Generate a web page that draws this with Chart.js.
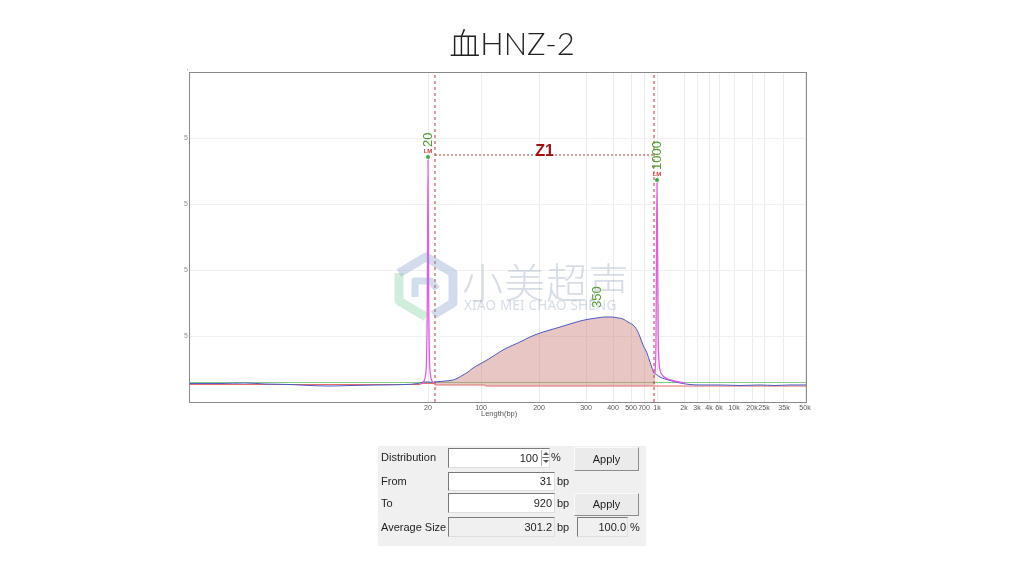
<!DOCTYPE html>
<html><head><meta charset="utf-8">
<script src="https://cdn.jsdelivr.net/npm/chart.js@4/dist/chart.umd.min.js"></script>
<style>
html,body{margin:0;padding:0;background:#fff;width:1024px;height:576px;overflow:hidden;}
#wrap{position:absolute;left:0;top:0;width:1024px;height:576px;}
#title{position:absolute;left:0;top:19px;width:1024px;text-align:center;font:300 31px "Lato","Noto Sans CJK SC",sans-serif;color:#222;}
#wm{position:absolute;left:0;top:0;width:1024px;height:576px;pointer-events:none;}
.wmcn{position:absolute;left:462px;top:250px;font:300 41px "Noto Sans CJK SC",sans-serif;color:rgba(150,165,190,0.38);letter-spacing:1px;white-space:nowrap;}
.wmen{position:absolute;left:464px;top:296px;font:13.5px "Noto Sans",sans-serif;color:rgba(150,165,190,0.38);white-space:nowrap;letter-spacing:0.2px;}
#panel{position:absolute;left:378px;top:446px;width:268px;height:100px;background:#f0f0f0;font:11px "Liberation Sans",Arial,sans-serif;color:#1e1e1e;}
#panel div{position:absolute;box-sizing:border-box;white-space:nowrap;}
.lbl{height:14px;line-height:14px;}
.box{border-top:1px solid #7a7a7a;border-left:1px solid #7a7a7a;border-right:1px solid #dedede;border-bottom:1px solid #dedede;background:#fff;text-align:right;padding-right:2px;}
.grey{background:#f0f0f0;}
.btn{background:#ebebeb;border-top:1px solid #fafafa;border-left:1px solid #fafafa;border-right:1px solid #8c8c8c;border-bottom:1px solid #8c8c8c;text-align:center;}
</style>
</head><body>
<div id="wrap"><canvas id="c" width="1024" height="576"></canvas></div>
<div id="title">血HNZ-2</div>
<div id="wm">
  <svg style="position:absolute;left:393px;top:251px" width="66" height="72" viewBox="0 0 66 72">
    <polyline points="6,22 33,6 60,22 60,52 40,64" fill="none" stroke="rgba(130,155,200,0.35)" stroke-width="9" stroke-linejoin="round"/>
    <polyline points="6,22 6,50 33,66" fill="none" stroke="rgba(120,200,150,0.35)" stroke-width="9" stroke-linejoin="round"/>
    <polyline points="22,46 22,30 38,30 44,38" fill="none" stroke="rgba(130,155,200,0.35)" stroke-width="7" stroke-linejoin="round"/>
  </svg>
  <div class="wmcn">小美超声</div>
  <div class="wmen">XIAO MEI CHAO SHENG</div>
</div>
<div id="panel">
  <div class="lbl" style="left:3px;top:4px">Distribution</div>
  <div class="box" style="left:70px;top:2px;width:102px;height:20px;line-height:18px;padding-right:11px">100</div>
  <div style="left:163px;top:4px;width:8px;height:16px;border-left:1px solid #b0b0b0;">
    <div style="left:1px;top:2px;width:0;height:0;border-left:3px solid transparent;border-right:3px solid transparent;border-bottom:3px solid #555"></div>
    <div style="left:0;top:7px;width:7px;height:1px;background:#777"></div>
    <div style="left:1px;top:10px;width:0;height:0;border-left:3px solid transparent;border-right:3px solid transparent;border-top:3px solid #555"></div>
  </div>
  <div class="lbl" style="left:173px;top:4px">%</div>
  <div class="btn" style="left:196px;top:1px;width:65px;height:24px;line-height:22px">Apply</div>

  <div class="lbl" style="left:3px;top:28px">From</div>
  <div class="box" style="left:70px;top:26px;width:107px;height:19px;line-height:17px">31</div>
  <div class="lbl" style="left:179px;top:28px">bp</div>

  <div class="lbl" style="left:3px;top:50px">To</div>
  <div class="box" style="left:70px;top:47px;width:107px;height:20px;line-height:18px">920</div>
  <div class="lbl" style="left:179px;top:50px">bp</div>
  <div class="btn" style="left:196px;top:47px;width:65px;height:23px;line-height:21px">Apply</div>

  <div class="lbl" style="left:3px;top:74px">Average Size</div>
  <div class="box grey" style="left:70px;top:71px;width:107px;height:20px;line-height:18px">301.2</div>
  <div class="lbl" style="left:179px;top:74px">bp</div>
  <div class="box grey" style="left:199px;top:71px;width:51px;height:20px;line-height:18px;padding-right:1px">100.0</div>
  <div class="lbl" style="left:252px;top:74px">%</div>
</div>
<script>
// ---- calibration / axes ----
const ladderSizeLabels = ['20','100','200','300','400','500','700','1k','2k','3k','4k','6k','10k','20k','25k','35k','50k'];
const ladderTimes = [23.8,29.1,34.9,39.6,42.3,44.1,45.4,46.7,49.4,50.7,51.9,52.9,54.4,56.2,57.4,59.4,61.5];
const xAxisTitle = 'Length(bp)';
const yTickLabels = ['', '5', '5', '5', '5', '\''];

// ---- sample trace (blue) ----
const tLeft   = [0, 3, 5.5, 7.5, 10, 12, 14, 16, 19, 21.5, 22.8, 23.4, 23.8, 24.3, 24.5];
const rfuLeft = [280, 280, 288, 273, 265, 250, 242, 250, 258, 265, 280, 303, 303, 295, 303];
const tSmear   = [24.5, 25.5, 26.3, 26.8, 27.3, 27.8, 28.3, 29.0, 29.7, 30.5, 31.3, 32.1, 33.0, 34.0, 35.0, 36.0, 37.0, 38.0, 39.0, 40.0, 40.7, 41.5, 42.2, 42.8, 43.3, 43.8, 44.3, 44.7, 45.0, 45.3, 45.7, 46.0, 46.2, 46.4, 46.55];
const rfuSmear = [303, 318, 333, 364, 409, 455, 515, 576, 636, 712, 788, 848, 909, 985, 1045, 1091, 1136, 1182, 1227, 1258, 1273, 1288, 1288, 1273, 1258, 1212, 1167, 1091, 985, 864, 742, 606, 515, 439, 424];
const tRight   = [46.55, 47.0, 47.5, 48.2, 49.0, 50.0, 51.0, 53.0, 55.0, 57.0, 58.5, 60.0, 61.6];
const rfuRight = [424, 379, 348, 318, 288, 265, 258, 258, 250, 258, 250, 258, 258];

// ---- ladder (pink) ----
const tLadder20   = [23.1, 23.4, 23.55, 23.65, 23.73, 23.8, 23.87, 23.95, 24.05, 24.2, 24.45];
const rfuLadder20 = [273, 318, 409, 636, 1545, 3667, 1545, 636, 409, 318, 288];
const tLadder1k   = [46.5, 46.6, 46.65, 46.7, 46.76, 46.83, 46.9, 47.0, 47.3, 47.8, 48.5, 49.5];
const rfuLadder1k = [424, 939, 2303, 3318, 2303, 939, 606, 485, 394, 348, 318, 288];

// ---- baselines ----
const tRed   = [0, 23.0, 23.1, 24.4, 24.5, 29.4, 29.6, 61.6];
const rfuRed = [265, 265, 280, 280, 258, 258, 242, 242];
const tGreen   = [0, 61.6];
const rfuGreen = [295, 295];

// ---- region Z1 ----
const regionName = 'Z1';
const regionStart = 24.5, regionEnd = 46.4, regionLevel = 3742;

// ---- peak labels ----
const peakLabelText = ['20', '1000', '350'];
const peakLabelTime = [23.8, 46.7, 40.7];
const peakLabelRfu  = [3667, 3318, 1273];
const peakIsMarker  = [true, true, false];
const markerTag = 'LM';

const pts = (xs, ys) => xs.map((x, i) => ({x, y: ys[i]}));

const overlay = {
  id: 'overlay',
  afterDatasetsDraw(chart) {
    const {ctx, chartArea: a, scales: {x, y}} = chart;
    ctx.save();
    ctx.fillStyle = '#a31010';
    ctx.font = 'bold 16px "Liberation Sans", Arial, sans-serif';
    ctx.textAlign = 'center'; ctx.textBaseline = 'alphabetic';
    ctx.fillText(regionName, x.getPixelForValue((regionStart + regionEnd) / 2), y.getPixelForValue(regionLevel) + 1);
    peakLabelText.forEach((txt, i) => {
      const px = x.getPixelForValue(peakLabelTime[i]);
      const py = y.getPixelForValue(peakLabelRfu[i]);
      let bottom = py - 10;
      if (peakIsMarker[i]) {
        ctx.fillStyle = '#3fa83f';
        ctx.beginPath(); ctx.arc(px, py - 3, 2, 0, Math.PI * 2); ctx.fill();
        ctx.fillStyle = '#d23a3a';
        ctx.font = 'bold 6px "Liberation Sans", Arial, sans-serif';
        ctx.textAlign = 'center'; ctx.textBaseline = 'middle';
        ctx.fillText(markerTag, px, py - 8.5);
        bottom = py - 13;
      }
      ctx.save();
      ctx.translate(px, bottom);
      ctx.rotate(-Math.PI / 2);
      ctx.fillStyle = '#4f9e2c';
      ctx.font = '13px "Liberation Sans", Arial, sans-serif';
      ctx.textAlign = 'left'; ctx.textBaseline = 'middle';
      ctx.fillText(txt, 0, 0);
      ctx.restore();
    });
    ctx.fillStyle = '#555';
    ctx.font = '7.5px "Liberation Sans", Arial, sans-serif';
    ctx.textAlign = 'left'; ctx.textBaseline = 'middle';
    ctx.fillText(xAxisTitle, x.getPixelForValue(ladderTimes[1]), a.bottom + 12);
    ctx.strokeStyle = '#8a8a8a'; ctx.lineWidth = 1;
    ctx.strokeRect(a.left - 0.5, a.top + 0.5, a.right - a.left + 1, a.bottom - a.top);
    ctx.restore();
  }
};

const common = {pointRadius: 0, borderWidth: 1, cubicInterpolationMode: 'monotone', fill: false};

new Chart(document.getElementById('c'), {
  type: 'line',
  data: {
    datasets: [
      {...common, label: 'smear', data: pts(tSmear, rfuSmear), borderColor: '#4c5ac4', backgroundColor: 'rgba(204,128,124,0.45)', fill: 1, order: 4},
      {...common, label: 'baseline', data: pts(tRed, rfuRed), borderColor: '#e86a6a', tension: 0, cubicInterpolationMode: 'default', order: 5},
      {...common, label: 'zero', data: pts(tGreen, rfuGreen), borderColor: '#86c986', order: 6},
      {...common, label: 'left', data: pts(tLeft, rfuLeft), borderColor: '#4c5ac4', order: 3},
      {...common, label: 'right', data: pts(tRight, rfuRight), borderColor: '#4c5ac4', order: 3},
      {...common, label: 'ladder20', data: pts(tLadder20, rfuLadder20), borderColor: '#e35ce3', borderWidth: 1.3, order: 1},
      {...common, label: 'ladder1k', data: pts(tLadder1k, rfuLadder1k), borderColor: '#e35ce3', borderWidth: 1.3, order: 1},
      {...common, label: 'r1', data: [{x: regionStart, y: 0}, {x: regionStart, y: 5000}], borderColor: '#b83a3a', borderDash: [3, 3], cubicInterpolationMode: 'default', order: 0},
      {...common, label: 'r2', data: [{x: regionEnd, y: 0}, {x: regionEnd, y: 5000}], borderColor: '#b83a3a', borderDash: [3, 3], cubicInterpolationMode: 'default', order: 0},
      {...common, label: 'r3', data: [{x: regionStart, y: regionLevel}, {x: regionEnd, y: regionLevel}], borderColor: '#b83a3a', borderDash: [2, 2], cubicInterpolationMode: 'default', order: 0}
    ]
  },
  options: {
    responsive: false,
    devicePixelRatio: 1,
    animation: false,
    layout: {padding: {left: 178, right: 218, top: 72, bottom: 152}},
    plugins: {legend: {display: false}, tooltip: {enabled: false}},
    scales: {
      x: {
        type: 'linear', min: 0, max: 61.6,
        afterBuildTicks: s => { s.ticks = ladderTimes.map(v => ({value: v})); },
        afterFit: s => { s.height = 22; },
        ticks: {autoSkip: false, maxRotation: 0, padding: 2, color: '#555',
                font: {size: 7, family: '"Liberation Sans", Arial, sans-serif'},
                callback: (v, i) => ladderSizeLabels[i]},
        grid: {color: '#ececec', drawTicks: false},
        border: {display: false}
      },
      y: {
        min: 0, max: 5000,
        afterFit: s => { s.width = 12; },
        ticks: {stepSize: 1000, padding: 2, color: '#8a8a8a',
                font: {size: 7, family: '"Liberation Sans", Arial, sans-serif'},
                callback: (v, i) => yTickLabels[i]},
        grid: {color: '#f1f1f1', drawTicks: false},
        border: {display: false}
      }
    }
  },
  plugins: [overlay]
});
</script>
</body></html>
